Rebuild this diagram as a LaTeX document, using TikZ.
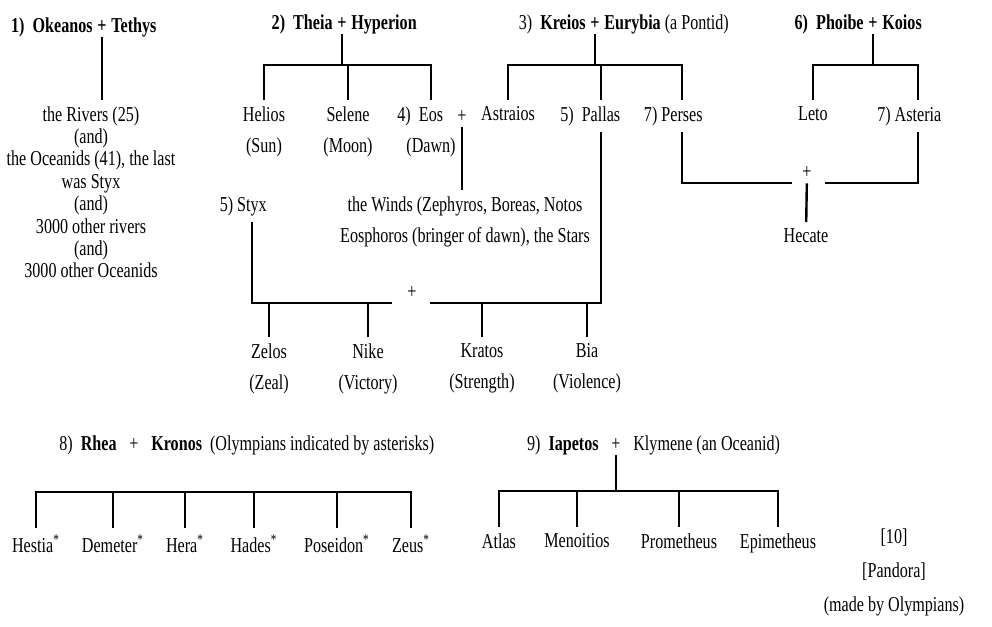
\documentclass[tikz,border=0pt]{standalone}
\usepackage{fontspec}
\setmainfont{Liberation Serif}[FakeStretch=0.76]
\usetikzlibrary{positioning}

\tikzset{
    txt/.style={inner sep=1pt},
    plus/.style={inner xsep=1pt, inner ysep=2pt},
    kid/.style={align=center, anchor=north, inner xsep=1pt, inner ysep=3pt},
    pair/.style={kid, font=\fontsize{10.6}{15.5}\selectfont},
    link/.style={line width=1.2pt}
}

\begin{document}
\begin{tikzpicture}[x=0.5pt, y=-0.5pt, font=\fontsize{10.6}{11.2}\selectfont]

\useasboundingbox (0, 0) rectangle (992, 627);

\node[plus] (p1) at (102, 27) {\textbf{+}};
\node[txt, base left=0pt of p1] (okeanos) {\textbf{1)~~Okeanos}};
\node[txt, base right=0pt of p1] (tethys) {\textbf{Tethys}};
\node[kid] (rivers) at (91, 100) {the Rivers (25)\\(and)\\the Oceanids (41), the last\\was Styx\\(and)\\3000 other rivers\\(and)\\3000 other Oceanids};
\draw[link] (p1) -- (p1 |- rivers.north);

\node[plus] (p2) at (342, 24) {\textbf{+}};
\node[txt, base left=0pt of p2] (theia) {\textbf{2)~~Theia}};
\node[txt, base right=0pt of p2] (hyperion) {\textbf{Hyperion}};
\node[pair] (helios) at (264, 100) {Helios\\(Sun)};
\node[pair] (selene) at (348, 100) {Selene\\(Moon)};
\node[pair] (eos) at (431, 100) {\llap{4)~~}Eos\\(Dawn)};
\coordinate (b2) at (342, 65);
\draw[link] (p2) -- (b2);
\draw[link] (helios) |- (b2) -| (eos);
\draw[link] (selene) -- (selene |- b2);

\node[plus] (p3) at (595, 24) {\textbf{+}};
\node[txt, base left=0pt of p3] (kreios) {3)~~\textbf{Kreios}};
\node[txt, base right=0pt of p3] (eurybia) {\textbf{Eurybia} (a Pontid)};
\node[kid] (astraios) at (508, 100) {Astraios};
\node[kid] (pallas) at (601, 100) {\llap{5)~~}Pallas};
\node[kid] (perses) at (682, 100) {\llap{7)~}Perses};
\coordinate (b3) at (595, 65);
\draw[link] (p3) -- (b3);
\draw[link] (astraios) |- (b3) -| (perses);
\draw[link] (pallas) -- (pallas |- b3);

\node[plus] (p4) at (462, 117) {+};
\node[pair] (winds) at (465, 190) {the Winds (Zephyros, Boreas, Notos\\Eosphoros (bringer of dawn), the Stars};
\draw[link] (p4) -- (p4 |- winds.north);

\node[kid] (styx) at (252, 190) {\llap{5)~}Styx};
\node[plus] (p5) at (412, 293) {+};
\coordinate (j5) at (412, 303);
\draw[link] (styx) |- ([xshift=-10pt]j5);
\draw[link] (pallas) |- ([xshift=9pt]j5);
\node[pair] (zelos) at (269, 337) {Zelos\\(Zeal)};
\node[pair] (nike) at (368, 337) {Nike\\(Victory)};
\node[pair] (kratos) at (482, 337) {Kratos\\(Strength)};
\node[pair] (bia) at (587, 337) {Bia\\(Violence)};
\foreach \k in {zelos, nike, kratos, bia}
{
    \draw[link] (\k) -- (\k |- j5);
}

\node[plus] (p6) at (873, 24) {\textbf{+}};
\node[txt, base left=0pt of p6] (phoibe) {\textbf{6)~~Phoibe}};
\node[txt, base right=0pt of p6] (koios) {\textbf{Koios}};
\node[kid] (leto) at (813, 100) {Leto};
\node[kid] (asteria) at (918, 100) {\llap{7)~}Asteria};
\coordinate (b6) at (873, 65);
\draw[link] (p6) -- (b6);
\draw[link] (leto) |- (b6) -| (asteria);

\node[plus] (p7) at (807, 173) {+};
\coordinate (j7) at (807, 183);
\node[kid] (hecate) at (806, 222) {Hecate};
\draw[link] (perses) |- ([xshift=-7.5pt]j7);
\draw[link] (asteria) |- ([xshift=9pt]j7);
\draw[link] (p7) -- (hecate);

\node[plus] (p8) at (134, 445) {+};
\node[txt, base left=4pt of p8] (rhea) {8)~~\textbf{Rhea}};
\node[txt, base right=4pt of p8] (kronos) {\textbf{Kronos}~~(Olympians indicated by asterisks)};
\node[kid] (hestia) at (36, 528) {Hestia\textsuperscript{*}};
\node[kid] (demeter) at (113, 528) {Demeter\textsuperscript{*}};
\node[kid] (hera) at (185, 528) {Hera\textsuperscript{*}};
\node[kid] (hades) at (254, 528) {Hades\textsuperscript{*}};
\node[kid] (poseidon) at (337, 528) {Poseidon\textsuperscript{*}};
\node[kid] (zeus) at (411, 528) {Zeus\textsuperscript{*}};
\coordinate (b8) at (224, 492);
\draw[link] (hestia) |- (b8) -| (zeus);
\foreach \k in {demeter, hera, hades, poseidon}
{
    \draw[link] (\k) -- (\k |- b8);
}

\node[plus] (p9) at (616, 445) {+};
\node[txt, base left=4pt of p9] (iapetos) {9)~~\textbf{Iapetos}};
\node[txt, base right=4pt of p9] (klymene) {Klymene (an Oceanid)};
\node[kid] (atlas) at (499, 527) {Atlas};
\node[kid] (menoitios) at (577, 527) {Menoitios};
\node[kid] (prometheus) at (679, 527) {Prometheus};
\node[kid] (epimetheus) at (778, 527) {Epimetheus};
\coordinate (b9) at (616, 491);
\draw[link] (p9) -- (b9);
\draw[link] (atlas) |- (b9) -| (epimetheus);
\foreach \k in {menoitios, prometheus}
{
    \draw[link] (\k) -- (\k |- b9);
}

\node[kid, font=\fontsize{10.6}{17}\selectfont] (pandora) at (894, 522) {[10]\\{[Pandora]}\\(made by Olympians)};

\end{tikzpicture}
\end{document}
